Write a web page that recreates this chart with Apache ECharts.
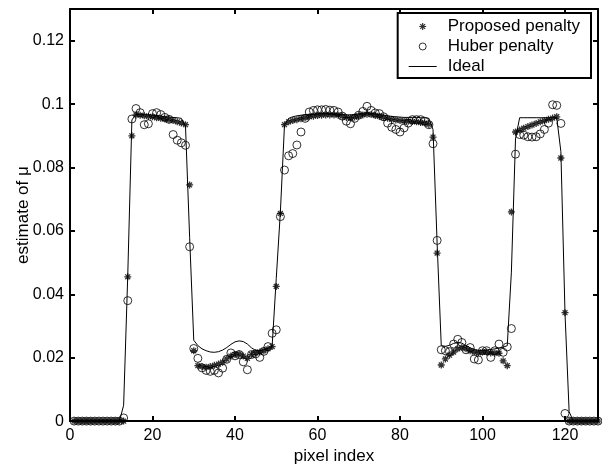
<!DOCTYPE html>
<html>
<head>
<meta charset="utf-8">
<script src="https://cdn.jsdelivr.net/npm/echarts@6/dist/echarts.min.js"></script>
<style>
  html, body { margin: 0; padding: 0; background: #fff; }
  #chart { width: 602px; height: 470px; }
</style>
</head>
<body>
<div id="chart"></div>
<script>
// values per pixel index 1..128
const proposed = [
  0, 0, 0, 0, 0, 0, 0, 0, 0, 0, 0, 0,
  0, 0.0455, 0.0900, 0.0966, 0.0965, 0.0963, 0.0961, 0.0960, 0.0957, 0.0955,
  0.0953, 0.0951, 0.0948, 0.0944, 0.0940, 0.0935, 0.0745, 0.0222, 0.0175, 0.0172,
  0.0170, 0.0172, 0.0176, 0.0180, 0.0186, 0.0196, 0.0205, 0.0210, 0.0212, 0.0205,
  0.0198, 0.0210, 0.0215, 0.0218, 0.0222, 0.0228, 0.0235, 0.0425, 0.0655, 0.0935,
  0.0944, 0.0948, 0.0951, 0.0954, 0.0957, 0.0960, 0.0962, 0.0964, 0.0965, 0.0966,
  0.0966, 0.0966, 0.0965, 0.0962, 0.0958, 0.0957, 0.0959, 0.0963, 0.0966, 0.0968,
  0.0967, 0.0964, 0.0961, 0.0958, 0.0955, 0.0952, 0.0950, 0.0948, 0.0947, 0.0946,
  0.0945, 0.0944, 0.0942, 0.0940, 0.0936, 0.0896, 0.0530, 0.0177, 0.0196, 0.0208,
  0.0218, 0.0228, 0.0232, 0.0228, 0.0222, 0.0218, 0.0215, 0.0218, 0.0218, 0.0215,
  0.0215, 0.0214, 0.0190, 0.0175, 0.0660, 0.0912, 0.0918, 0.0924, 0.0929, 0.0934,
  0.0939, 0.0944, 0.0948, 0.0952, 0.0956, 0.0960, 0.0830, 0.0342,
  0, 0, 0, 0, 0, 0, 0, 0
]
const huber = [
  0, 0, 0, 0, 0, 0, 0, 0, 0, 0, 0, 0,
  0.0010, 0.0380, 0.0953, 0.0986, 0.0973, 0.0935, 0.0938, 0.0970, 0.0973, 0.0967,
  0.0958, 0.0952, 0.0904, 0.0886, 0.0878, 0.0870, 0.0550, 0.0229, 0.0198, 0.0168,
  0.0160, 0.0157, 0.0160, 0.0152, 0.0167, 0.0195, 0.0215, 0.0206, 0.0210, 0.0187,
  0.0162, 0.0210, 0.0212, 0.0201, 0.0220, 0.0235, 0.0277, 0.0288, 0.0645, 0.0792,
  0.0837, 0.0844, 0.0871, 0.0912, 0.0955, 0.0975, 0.0980, 0.0982, 0.0982, 0.0983,
  0.0981, 0.0980, 0.0975, 0.0962, 0.0946, 0.0938, 0.0955, 0.0965, 0.0977, 0.0993,
  0.0980, 0.0972, 0.0970, 0.0960, 0.0940, 0.0927, 0.0920, 0.0912, 0.0925, 0.0940,
  0.0951, 0.0951, 0.0951, 0.0946, 0.0935, 0.0875, 0.0570, 0.0225, 0.0222, 0.0219,
  0.0243, 0.0258, 0.0248, 0.0225, 0.0232, 0.0196, 0.0193, 0.0222, 0.0222, 0.0201,
  0.0222, 0.0243, 0.0217, 0.0234, 0.0292, 0.0842, 0.0904, 0.0902, 0.0897, 0.0896,
  0.0897, 0.0906, 0.0920, 0.0940, 0.0998, 0.0996, 0.0939, 0.0024,
  0, 0, 0, 0, 0, 0, 0, 0
]
const ideal = [
  0, 0, 0, 0, 0, 0, 0, 0, 0, 0, 0, 0,
  0.0050, 0.0460, 0.0950, 0.0968, 0.0968, 0.0967, 0.0966, 0.0965, 0.0964, 0.0962,
  0.0960, 0.0959, 0.0958, 0.0957, 0.0955, 0.0930, 0.0580, 0.0255, 0.0238, 0.0228,
  0.0222, 0.0218, 0.0217, 0.0219, 0.0224, 0.0232, 0.0242, 0.0250, 0.0253, 0.0251,
  0.0243, 0.0231, 0.0223, 0.0222, 0.0225, 0.0229, 0.0236, 0.0450, 0.0660, 0.0935,
  0.0955, 0.0960, 0.0963, 0.0965, 0.0966, 0.0967, 0.0968, 0.0968, 0.0969, 0.0969,
  0.0969, 0.0969, 0.0968, 0.0967, 0.0966, 0.0966, 0.0967, 0.0969, 0.0971, 0.0972,
  0.0971, 0.0969, 0.0967, 0.0965, 0.0963, 0.0961, 0.0960, 0.0959, 0.0958, 0.0958,
  0.0958, 0.0958, 0.0957, 0.0957, 0.0955, 0.0920, 0.0560, 0.0238, 0.0236, 0.0239,
  0.0245, 0.0248, 0.0246, 0.0238, 0.0231, 0.0226, 0.0223, 0.0223, 0.0224, 0.0226,
  0.0228, 0.0230, 0.0233, 0.0238, 0.0470, 0.0890, 0.0957, 0.0957, 0.0957, 0.0957,
  0.0957, 0.0957, 0.0957, 0.0957, 0.0957, 0.0957, 0.0850, 0.0340,
  0.0030, 0, 0, 0, 0, 0, 0, 0
]
const xTicks = [0, 20, 40, 60, 80, 100, 120]
const yTicks = [0, 0.02, 0.04, 0.06, 0.08, 0.1, 0.12]

const pairs = arr => arr.map((v, i) => [i + 1, v])

const font = 'Liberation Sans, Arial, Helvetica, sans-serif'
const asterisk = 'path://M0,5L10,5M5,0L5,10M1.5,1.5L8.5,8.5M8.5,1.5L1.5,8.5'
const dash = 'path://M0,0L28,0L28,1L0,1Z'

const edge = { show: true, onZero: false, lineStyle: { color: '#000', width: 2 } }
const tick = { show: true, inside: true, length: 5, lineStyle: { color: '#000', width: 2 } }
const ring = { color: 'rgba(0,0,0,0)', borderColor: '#000', borderWidth: 1 }

const chart = echarts.init(document.getElementById('chart'))
const option = {
  animation: false,
  backgroundColor: '#fff',
  textStyle: { fontFamily: font },
  grid: { left: 70, right: 4, top: 9, bottom: 47, containLabel: false },
  legend: {
    orient: 'vertical',
    right: 11,
    top: 13,
    padding: [5, 11, 3, 11],
    borderColor: '#000',
    borderWidth: 2,
    itemWidth: 28,
    itemHeight: 7,
    itemGap: 3,
    textStyle: { fontSize: 17, color: '#000', fontFamily: font, lineHeight: 17, padding: [0, 0, 0, 6] },
    data: [
      { name: 'Proposed penalty', icon: asterisk, itemStyle: { color: '#000', borderColor: '#000', borderWidth: 1.2 } },
      { name: 'Huber penalty', icon: 'circle', itemStyle: ring },
      { name: 'Ideal', icon: dash, itemStyle: { color: '#000', borderWidth: 0 } }
    ]
  },
  xAxis: [
    {
      type: 'value',
      min: 0,
      max: 128,
      interval: 20,
      name: 'pixel index',
      nameLocation: 'middle',
      nameGap: 22,
      nameTextStyle: { fontSize: 17, color: '#000', fontFamily: font },
      axisLine: edge,
      axisTick: tick,
      axisLabel: {
        color: '#000', fontSize: 16, fontFamily: font, margin: 6, showMaxLabel: false,
        formatter: v => xTicks.indexOf(v) >= 0 ? String(v) : ''
      },
      splitLine: { show: false }
    },
    {
      type: 'value',
      position: 'top',
      min: 0,
      max: 128,
      interval: 20,
      axisLine: edge,
      axisTick: tick,
      axisLabel: { show: false },
      splitLine: { show: false }
    }
  ],
  yAxis: [
    {
      type: 'value',
      min: 0,
      max: 0.13,
      interval: 0.02,
      name: 'estimate of μ',
      nameLocation: 'middle',
      nameGap: 38,
      nameMoveOverlap: false,
      nameTextStyle: { fontSize: 17, color: '#000', fontFamily: font },
      axisLine: edge,
      axisTick: tick,
      axisLabel: {
        color: '#000', fontSize: 16, fontFamily: font, margin: 6, showMaxLabel: false,
        formatter: v => {
          const t = yTicks.find(y => Math.abs(y - v) < 1e-9)
          return t === undefined ? '' : String(t)
        }
      },
      splitLine: { show: false }
    },
    {
      type: 'value',
      position: 'right',
      min: 0,
      max: 0.13,
      interval: 0.02,
      axisLine: edge,
      axisTick: tick,
      axisLabel: { show: false },
      splitLine: { show: false }
    }
  ],
  series: [
    {
      name: 'Proposed penalty',
      type: 'scatter',
      symbol: asterisk,
      symbolSize: 7,
      itemStyle: { color: '#000', borderColor: '#000', borderWidth: 1.3 },
      data: pairs(proposed)
    },
    {
      name: 'Huber penalty',
      type: 'scatter',
      symbol: 'circle',
      symbolSize: 8,
      itemStyle: ring,
      data: pairs(huber)
    },
    {
      name: 'Ideal',
      type: 'line',
      symbol: 'none',
      lineStyle: { color: '#000', width: 1 },
      itemStyle: { color: '#000' },
      data: pairs(ideal)
    }
  ]
}
chart.setOption(option)
</script>
</body>
</html>
